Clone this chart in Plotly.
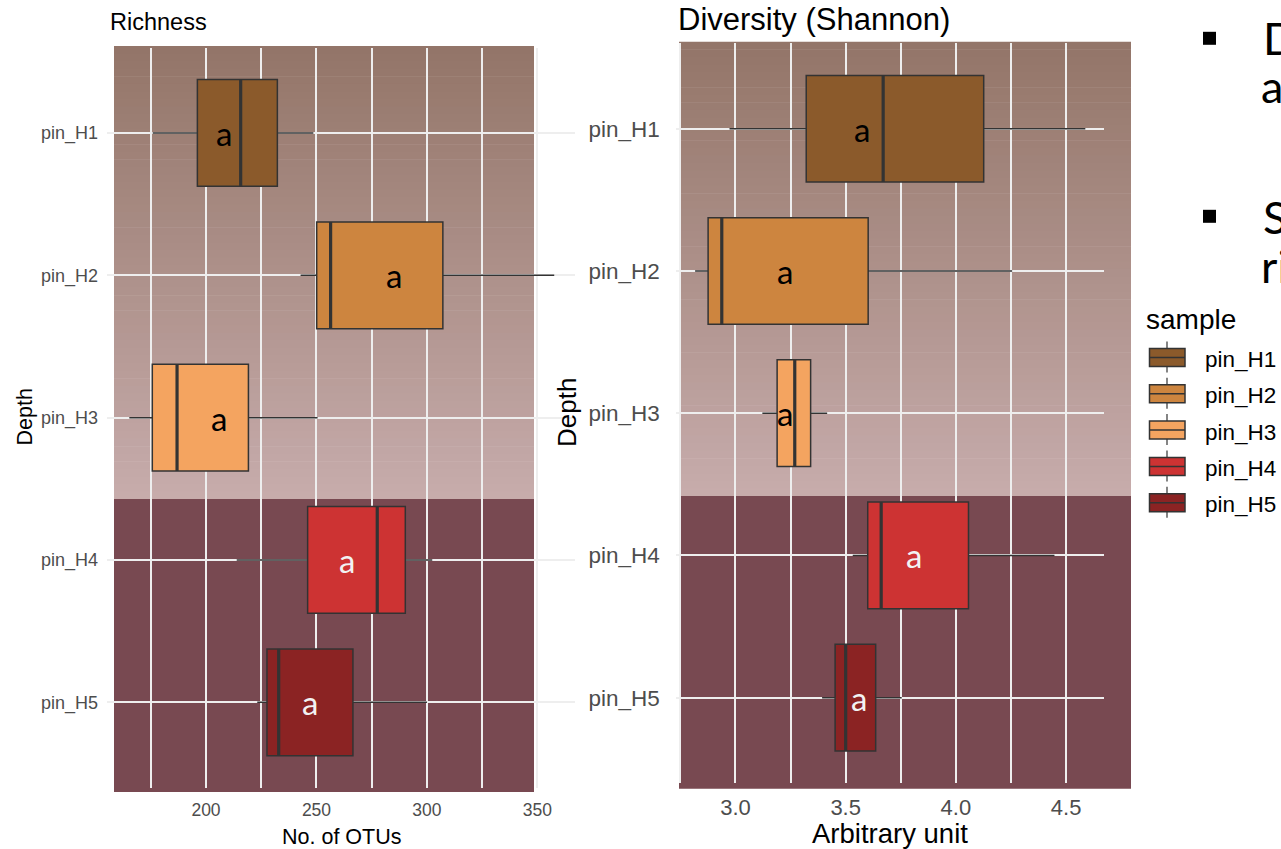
import plotly.graph_objects as go

W, H = 1281, 849

# ---------------- data ----------------
samples = ["pin_H1", "pin_H2", "pin_H3", "pin_H4", "pin_H5"]
positions = [1, 2, 3, 4, 5]
box_colors = ["#8B5A2B", "#CD853F", "#F4A460", "#CD3333", "#8B2323"]

# Richness (No. of OTUs)
rich_lower = [175.9, 242.8, 165.3, 213.9, 223.2]
rich_q1 = [196.1, 250.1, 175.7, 246.0, 227.6]
rich_med = [215.7, 256.4, 186.9, 277.5, 232.9]
rich_q3 = [232.3, 307.2, 219.2, 290.2, 266.5]
rich_upper = [248.6, 357.6, 250.5, 302.4, 300.0]
rich_letter_x = [208.1, 284.9, 206.0, 263.6, 247.1]

# Diversity (Shannon)
shan_lower = [2.973, 2.817, 3.122, 3.532, 3.393]
shan_q1 = [3.321, 2.876, 3.189, 3.600, 3.452]
shan_med = [3.670, 2.938, 3.269, 3.661, 3.500]
shan_q3 = [4.126, 3.602, 3.341, 4.057, 3.636]
shan_upper = [4.587, 4.255, 3.416, 4.447, 3.754]
shan_letter_x = [3.575, 3.227, 3.227, 3.812, 3.559]

letters = ["a", "a", "a", "a", "a"]

rich_ticks = [175, 200, 225, 250, 275, 300, 325, 350]
rich_ticktext = ["", "200", "", "250", "", "300", "", "350"]
shan_ticks = [2.75, 3.0, 3.25, 3.5, 3.75, 4.0, 4.25, 4.5]
shan_ticktext = ["", "3.0", "", "3.5", "", "4.0", "", "4.5"]

# ---------------- helpers (pixel -> paper) ----------------
def px(x):
    return x / W


def py(y):
    return 1 - y / H


SANS = "Liberation Sans, Arial, sans-serif"
CAL = "Lato, Open Sans, sans-serif"
BOXLINE = "#333333"
GRID = "#eeeeee"
TICKCOL = "#4d4d4d"
letter_colors = ["black", "black", "black", "#f2f2f2", "#f2f2f2"]

fig = go.Figure()

panels = [
    ("x", "y", rich_lower, rich_q1, rich_med, rich_q3, rich_upper, rich_letter_x),
    ("x2", "y2", shan_lower, shan_q1, shan_med, shan_q3, shan_upper, shan_letter_x),
]

for xa, ya, lo, q1, med, q3, up, lx in panels:
    for i, s in enumerate(samples):
        fig.add_trace(go.Box(
            y=[positions[i]], q1=[q1[i]], median=[med[i]], q3=[q3[i]],
            lowerfence=[lo[i]], upperfence=[up[i]],
            orientation="h", width=0.75, whiskerwidth=0,
            fillcolor=box_colors[i], line=dict(color=BOXLINE, width=1.5),
            boxpoints=False, name=s, showlegend=False, hoverinfo="skip",
            xaxis=xa, yaxis=ya,
        ))
        # thicker median line (ggplot fatten)
        fig.add_trace(go.Scatter(
            x=[med[i], med[i]], y=[positions[i] - 0.375, positions[i] + 0.375],
            mode="lines", line=dict(color=BOXLINE, width=3.2),
            showlegend=False, hoverinfo="skip", xaxis=xa, yaxis=ya,
        ))
        fig.add_annotation(
            x=lx[i], y=positions[i], xref=xa, yref=ya, text=letters[i],
            showarrow=False, xanchor="center", yanchor="middle", yshift=0,
            font=dict(family=CAL, size=33, color=letter_colors[i]),
        )

# ---------------- backgrounds (gradient rectangles behind the charts) ----------------
shapes = []


def bg(x0, x1, top, mid, bottom, ctop, cmid, clow, n=60):
    for k in range(n):
        t0 = top + (mid - top) * k / n
        t1 = top + (mid - top) * (k + 1) / n
        f = (k + 0.5) / n
        c = tuple(round(ctop[j] + (cmid[j] - ctop[j]) * f) for j in range(3))
        shapes.append(dict(type="rect", xref="paper", yref="paper",
                           x0=px(x0), x1=px(x1), y0=py(t1 + 0.6), y1=py(t0),
                           fillcolor="rgb(%d,%d,%d)" % c, line=dict(width=0), layer="below"))
    shapes.append(dict(type="rect", xref="paper", yref="paper",
                       x0=px(x0), x1=px(x1), y0=py(bottom), y1=py(mid),
                       fillcolor="rgb(%d,%d,%d)" % clow, line=dict(width=0), layer="below"))


CTOP = (147, 117, 104)
CMID = (199, 172, 172)
CLOW = (120, 73, 81)
bg(114, 534, 46, 499, 792, CTOP, CMID, CLOW)
bg(679, 1131, 41.7, 496, 788.7, CTOP, CMID, CLOW)

# legend keys (boxplot glyphs)
for i, s in enumerate(samples):
    cy = 357.5 + 36.3 * i
    shapes.append(dict(type="line", xref="paper", yref="paper",
                       x0=px(1167), x1=px(1167), y0=py(cy - 16), y1=py(cy + 15),
                       line=dict(color=BOXLINE, width=1.2), layer="above"))
    shapes.append(dict(type="rect", xref="paper", yref="paper",
                       x0=px(1149.5), x1=px(1185), y0=py(cy + 9), y1=py(cy - 9),
                       fillcolor=box_colors[i], line=dict(color=BOXLINE, width=1.5), layer="above"))
    shapes.append(dict(type="line", xref="paper", yref="paper",
                       x0=px(1149.5), x1=px(1185), y0=py(cy), y1=py(cy),
                       line=dict(color=BOXLINE, width=1.5), layer="above"))
    fig.add_annotation(x=px(1203), y=py(cy + 2), xref="paper", yref="paper", text=s,
                       showarrow=False, xanchor="left", yanchor="middle",
                       font=dict(family=SANS, size=22.5, color="black"))

# bullet squares
for cy in [38.3, 216.3]:
    shapes.append(dict(type="rect", xref="paper", yref="paper",
                       x0=px(1203), x1=px(1216), y0=py(cy + 6.5), y1=py(cy - 6.5),
                       fillcolor="black", line=dict(width=0), layer="above"))

# ---------------- text annotations ----------------
texts = [
    ("Richness", 108, 22, "left", 23.5, 0),
    ("Diversity (Shannon)", 676, 20, "left", 31, 0),
    ("No. of OTUs", 341, 837, "center", 21.5, 0),
    ("Arbitrary unit", 890, 833, "center", 27.5, 0),
    ("Depth", 24.5, 417, "center", 21.5, -90),
    ("Depth", 567, 413, "center", 26, -90),
    ("sample", 1144, 319, "left", 28, 0),
]
for t, x, y, xa, sz, ang in texts:
    fig.add_annotation(x=px(x), y=py(y), xref="paper", yref="paper", text=t,
                       showarrow=False, xanchor=xa, yanchor="middle", textangle=ang,
                       font=dict(family=SANS, size=sz, color="black"))

for t, x, y in [("D", 1261, 38), ("a", 1259, 86), ("S", 1261, 217), ("ri", 1259, 266)]:
    fig.add_annotation(x=px(x), y=py(y), xref="paper", yref="paper", text=t,
                       showarrow=False, xanchor="left", yanchor="middle",
                       font=dict(family=CAL, size=45, color="black"))

axis_common = dict(showgrid=True, gridcolor=GRID, gridwidth=1.5, zeroline=False,
                   showline=False, ticks="")

fig.update_layout(
    width=W, height=H, margin=dict(l=0, r=0, t=0, b=0),
    paper_bgcolor="white", plot_bgcolor="rgba(0,0,0,0)",
    showlegend=False, shapes=shapes,
    xaxis=dict(domain=[px(107), px(575)], range=[155.2, 367.0], anchor="y",
               tickmode="array", tickvals=rich_ticks, ticktext=rich_ticktext,
               tickfont=dict(family=SANS, size=17.5, color=TICKCOL),
               ticklabelstandoff=10, **axis_common),
    yaxis=dict(domain=[py(787.7), py(47.6)], range=[5.6, 0.4], anchor="x",
               tickmode="array", tickvals=positions, ticktext=samples,
               tickfont=dict(family=SANS, size=18, color=TICKCOL),
               ticklabelstandoff=8, **axis_common),
    xaxis2=dict(domain=[px(675.7), px(1104.3)], range=[2.729, 4.673], anchor="y2",
                tickmode="array", tickvals=shan_ticks, ticktext=shan_ticktext,
                tickfont=dict(family=SANS, size=22, color=TICKCOL),
                ticklabelstandoff=9, **axis_common),
    yaxis2=dict(domain=[py(783), py(43.4)], range=[5.6, 0.4], anchor="x2",
                tickmode="array", tickvals=positions, ticktext=samples,
                tickfont=dict(family=SANS, size=22.5, color=TICKCOL),
                ticklabelstandoff=15, **axis_common),
)

fig.write_html(
    "out.html",
    config={"displayModeBar": False},
    post_script="document.body.style.margin='0';document.body.style.overflow='hidden';",
)
